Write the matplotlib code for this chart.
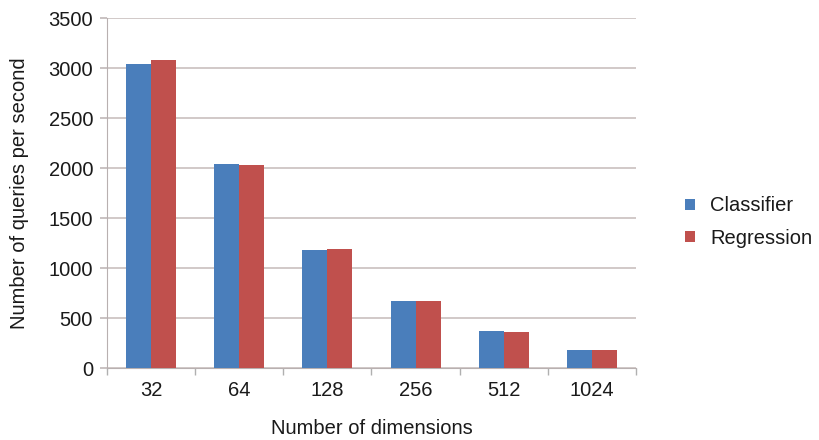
import matplotlib
matplotlib.use("Agg")
import matplotlib.pyplot as plt
import numpy as np
from matplotlib.patches import Patch

plt.rcParams['font.family'] = ['Liberation Sans', 'DejaVu Sans']

dimensions = ["32", "64", "128", "256", "512", "1024"]
classifier = [3040, 2045, 1185, 670, 370, 185]
regression = [3080, 2030, 1190, 675, 365, 185]
series_names = ["Classifier", "Regression"]
colors = ["#4a7ebb", "#c0504d"]

FS = 14.5

fig = plt.figure(figsize=(8.19, 4.40), dpi=100)
ax = fig.add_axes([107/819, 1-368/440, (636-107)/819, (368-18)/440])

x = np.arange(len(dimensions))
w = 0.284
ax.bar(x - w/2, classifier, width=w, color=colors[0], zorder=3)
ax.bar(x + w/2, regression, width=w, color=colors[1], zorder=3)

ax.set_xlim(-0.5, len(dimensions) - 0.5)
ax.set_ylim(0, 3500)
ax.set_yticks(np.arange(0, 3501, 500))
ax.yaxis.grid(True, color="#c9c0bf", linewidth=1.2, zorder=0)
ax.set_axisbelow(True)

ax.set_xticks(x)
ax.set_xticklabels(dimensions)
ax.set_xticks(np.arange(-0.5, len(dimensions)), minor=True)
ax.tick_params(axis="x", which="major", length=0, pad=9, labelsize=FS, labelcolor="#1a1a1a")
ax.tick_params(axis="x", which="minor", length=5, color="#b0b0b0", width=1)
ax.tick_params(axis="y", length=5, color="#c0b8b8", width=1.2, pad=5, labelsize=FS, labelcolor="#1a1a1a")

for side in ["top", "right"]:
    ax.spines[side].set_visible(False)
ax.spines["left"].set_color("#b8b0b0")
ax.spines["bottom"].set_color("#b8b0b0")

ax.set_ylabel("Number of queries per second", fontsize=FS, labelpad=14, color="#1a1a1a")
ax.set_xlabel("Number of dimensions", fontsize=FS, labelpad=14, color="#1a1a1a")

handles = [Patch(facecolor=c, edgecolor="none") for c in colors]
fig.legend(handles, series_names, loc="center left", bbox_to_anchor=(667/819, 1-222/440),
           frameon=False, fontsize=FS, handlelength=0.5, handleheight=0.5,
           handletextpad=0.75, labelspacing=0.65, labelcolor="#1a1a1a")

fig.savefig("out.png", dpi=100)
